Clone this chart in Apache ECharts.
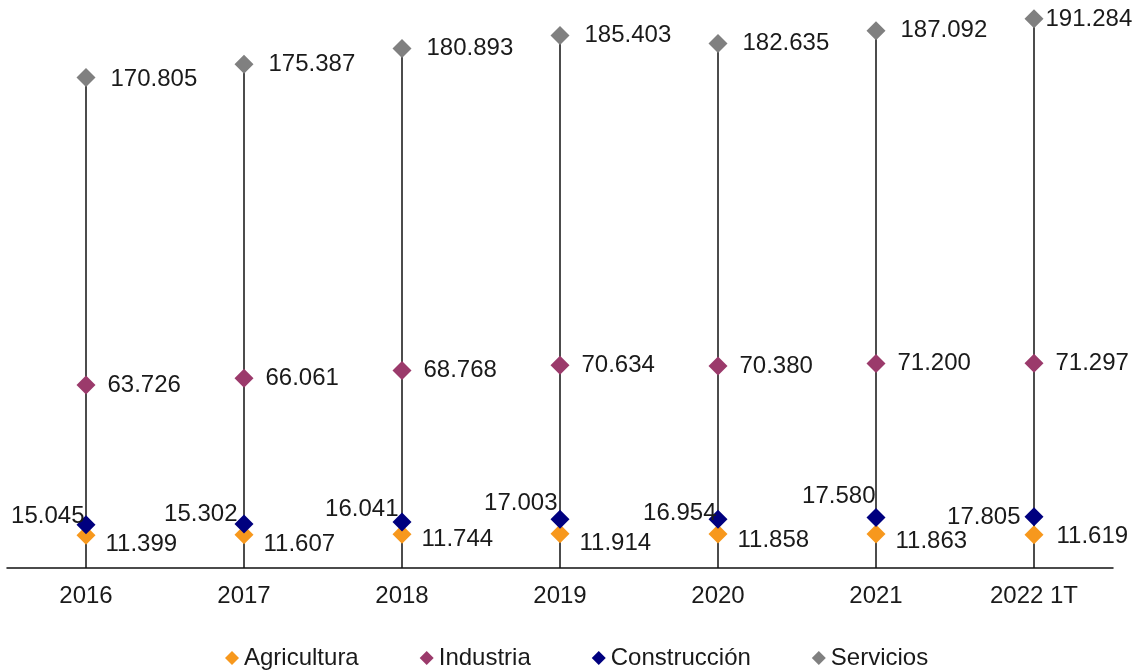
<!DOCTYPE html>
<html>
<head>
<meta charset="utf-8">
<script src="https://cdn.jsdelivr.net/npm/echarts@6/dist/echarts.min.js"></script>
<style>
html,body{margin:0;padding:0;background:#fff;}
#chart{width:1138px;height:671px;}
</style>
</head>
<body>
<div id="chart"></div>
<script>
var categories = ['2016', '2017', '2018', '2019', '2020', '2021', '2022 1T'];
var agricultura = [11.399, 11.607, 11.744, 11.914, 11.858, 11.863, 11.619];
var industria = [63.726, 66.061, 68.768, 70.634, 70.380, 71.200, 71.297];
var construccion = [15.045, 15.302, 16.041, 17.003, 16.954, 17.580, 17.805];
var servicios = [170.805, 175.387, 180.893, 185.403, 182.635, 187.092, 191.284];

// label placement tweaks (styling only)
var agriOffsets = [[0,9],[0,10],[0,5],[0,10],[0,6],[0,7],[3,2]];
var indOffsets = [[0,0],[0,0],[0,0],[0,0],[0,0],[0,0],[0,0]];
var consOffsets = [[11,-8],[6,-10],[9,-13],[10,-16],[11,-6],[12,-21],[-1,1]];
var servOffsets = [[2,2],[2,0],[2,0],[2,0],[2,0],[2,0],[-11,1]];

var fontFamily = '"Liberation Sans", Arial, sans-serif';
var textColor = '#1a1a1a';
var fs = 24;

function fmt(v) { return v.toFixed(3); }

function buildData(vals, offsets) {
  return vals.map(function (v, i) {
    return { value: v, label: { offset: offsets[i] } };
  });
}

function scatterSeries(name, vals, color, offsets, pos, distance) {
  return {
    name: name,
    type: 'scatter',
    symbol: 'diamond',
    symbolSize: 19,
    itemStyle: { color: color, opacity: 1 },
    label: {
      show: true,
      position: pos,
      distance: distance,
      formatter: function (p) { return fmt(p.value); },
      fontFamily: fontFamily,
      fontSize: fs,
      color: textColor
    },
    emphasis: { disabled: true },
    data: buildData(vals, offsets),
    z: 3
  };
}

var chart = echarts.init(document.getElementById('chart'), null, { renderer: 'canvas' });
chart.setOption({
  animation: false,
  backgroundColor: '#ffffff',
  grid: { left: 7, right: 25, top: 8, bottom: 103, containLabel: false },
  xAxis: {
    type: 'category',
    data: categories,
    boundaryGap: true,
    axisLine: { show: true, lineStyle: { color: '#111', width: 1.5 } },
    axisTick: { show: false },
    axisLabel: { margin: 16, fontFamily: fontFamily, fontSize: fs, color: textColor }
  },
  yAxis: {
    type: 'value',
    min: 0,
    max: 195,
    show: false,
    splitLine: { show: false }
  },
  legend: {
    bottom: 1,
    left: 225,
    padding: 0,
    icon: 'diamond',
    itemWidth: 14,
    itemHeight: 14,
    itemGap: 61,
    textStyle: { fontFamily: fontFamily, fontSize: fs, color: textColor },
    data: ['Agricultura', 'Industria', 'Construcción', 'Servicios']
  },
  series: [
    {
      name: 'stem',
      type: 'bar',
      data: servicios,
      barWidth: 1.5,
      itemStyle: { color: '#111' },
      silent: true,
      z: 1,
      legendHoverLink: false
    },
    scatterSeries('Agricultura', agricultura, '#F7981D', agriOffsets, 'right', 10),
    scatterSeries('Industria', industria, '#9B3A6B', indOffsets, 'right', 12),
    scatterSeries('Construcción', construccion, '#00007F', consOffsets, 'left', 3),
    scatterSeries('Servicios', servicios, '#808080', servOffsets, 'right', 13)
  ]
});
</script>
</body>
</html>
